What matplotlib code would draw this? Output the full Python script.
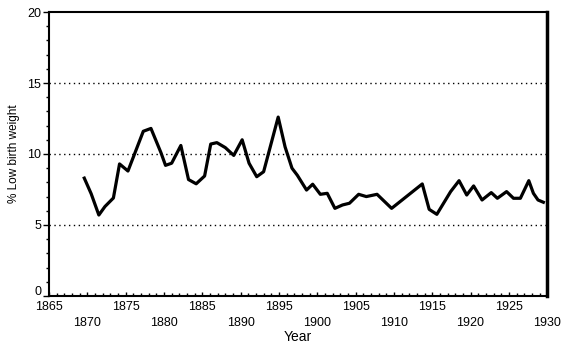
import matplotlib
matplotlib.use("Agg")
import matplotlib.pyplot as plt
import matplotlib.transforms as mtransforms
from matplotlib.ticker import MultipleLocator, FixedLocator

plt.rcParams['font.family'] = ['Liberation Sans', 'DejaVu Sans']

years = [1869.6, 1870.5, 1871.5, 1872.3, 1873.4, 1874.2, 1875.3, 1877.3, 1878.3,
         1879.6, 1880.2, 1881.0, 1882.2, 1883.2, 1884.2, 1885.3, 1886.1, 1886.9,
         1888.0, 1889.1, 1890.2, 1891.1, 1892.1, 1893.0, 1894.9, 1895.8, 1896.7,
         1897.4, 1898.6, 1899.4, 1900.4, 1901.3, 1902.3, 1903.3, 1904.2, 1905.4,
         1906.4, 1907.8, 1909.7, 1913.7, 1914.6, 1915.6, 1917.4, 1918.5, 1919.5,
         1920.4, 1921.5, 1922.7, 1923.5, 1924.7, 1925.6, 1926.5, 1927.6, 1928.2,
         1928.8, 1929.5]
low_bw = [8.3, 7.2, 5.7, 6.3, 6.9, 9.3, 8.8, 11.6, 11.8,
          10.1, 9.2, 9.35, 10.6, 8.2, 7.9, 8.45, 10.7, 10.8,
          10.45, 9.9, 11.0, 9.35, 8.4, 8.75, 12.6, 10.5, 9.0,
          8.5, 7.46, 7.87, 7.16, 7.23, 6.17, 6.41, 6.53, 7.16,
          7.0, 7.16, 6.17, 7.89, 6.1, 5.75, 7.35, 8.12, 7.11,
          7.75, 6.76, 7.28, 6.88, 7.35, 6.88, 6.88, 8.12, 7.23,
          6.76, 6.6]

x_ticks = [1865, 1870, 1875, 1880, 1885, 1890, 1895, 1900, 1905, 1910,
           1915, 1920, 1925, 1930]
y_ticks = [0, 5, 10, 15, 20]
grid_levels = [5, 10, 15]

fig = plt.figure(figsize=(5.70, 3.54), dpi=100)
ax = fig.add_axes([0.086, 0.164, 0.874, 0.802])

for g in grid_levels:
    ax.axhline(g, color='black', linewidth=1.0, linestyle=(0, (1, 2.5)), zorder=1)

ax.plot(years, low_bw, color='black', linewidth=2.3, zorder=3)

ax.set_xlim(1865, 1930)
ax.set_ylim(0, 20)

ax.xaxis.set_major_locator(FixedLocator(x_ticks))
labels = [str(t) if i % 2 == 0 else "\n" + str(t) for i, t in enumerate(x_ticks)]
ax.set_xticklabels(labels, fontsize=9, linespacing=1.45)
ax.xaxis.set_minor_locator(MultipleLocator(1))
ax.set_yticks(y_ticks)
ax.set_yticklabels([str(t) for t in y_ticks], fontsize=9)
ax.yaxis.set_minor_locator(MultipleLocator(1))

ax.tick_params(axis='x', which='major', direction='in', length=3, width=1, pad=3.5)
ax.tick_params(axis='x', which='minor', direction='in', length=2, width=1)
ax.tick_params(axis='y', which='major', direction='out', length=4, width=1, pad=1.5)
ax.tick_params(axis='y', which='minor', direction='out', length=2, width=1)

# the "0" label sits slightly raised, as in the reference
zero_lbl = ax.get_yticklabels()[0]
zero_lbl.set_transform(zero_lbl.get_transform() +
                       mtransforms.ScaledTranslation(0, 4 / 72, fig.dpi_scale_trans))

for side in ['left', 'bottom', 'top']:
    ax.spines[side].set_linewidth(1.5)
ax.spines['right'].set_linewidth(2.5)

ax.set_xlabel('Year', fontsize=10, labelpad=1)
ax.set_ylabel('% Low birth weight', fontsize=8.5, labelpad=5)

fig.savefig('out.png', dpi=100)
